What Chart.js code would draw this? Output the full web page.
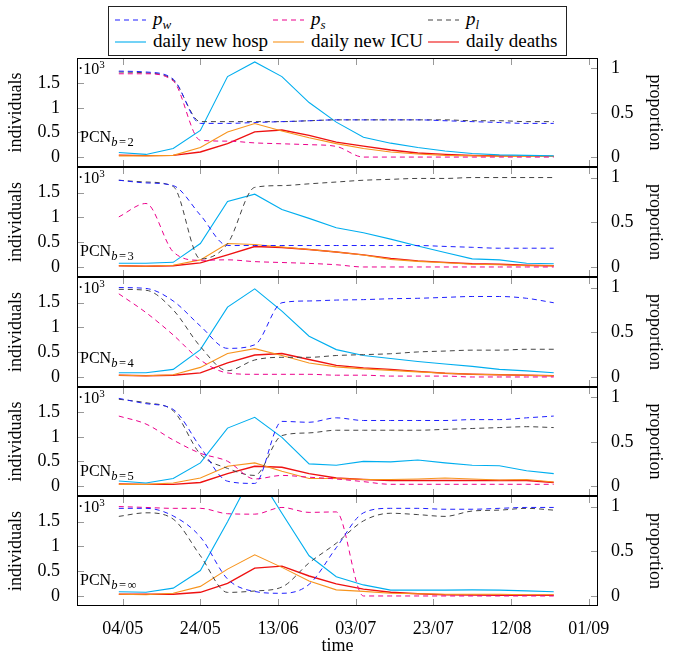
<!DOCTYPE html>
<html>
<head>
<meta charset="utf-8">
<script src="https://cdn.jsdelivr.net/npm/chart.js@4.4.0/dist/chart.umd.min.js"></script>
<style>
  html, body { margin: 0; padding: 0; background: #fff; }
  #page { position: relative; width: 673px; height: 655px; overflow: hidden;
          font-family: "Liberation Serif", "DejaVu Serif", serif; color: #000; }
  canvas { position: absolute; left: 0; }
  .lbl { position: absolute; white-space: nowrap; line-height: 1; }
  #legend { position: absolute; left: 108px; top: 6px; width: 457px; height: 48px;
            border: 1px solid #222; }
  .leg { position: absolute; white-space: nowrap; font-size: 19px; line-height: 19px; }
  .leg sub { font-size: 13px; vertical-align: -4px; line-height: 0; }
  .pcn { font-size: 16px; }
  .pcn sub { font-size: 12.5px; vertical-align: -4px; line-height: 0; letter-spacing: 1.5px; }
  .ten { font-size: 16px; }
  .ten sup { font-size: 11px; vertical-align: 6px; line-height: 0; }
</style>
</head>
<body>
<div id="page">
  <div id="legend"></div>
</div>
<script>
// --- data (individuals in thousands, proportions 0..1) ---
// days since 04/05, weekly points
const days = [-1, 6, 13, 20, 27, 34, 41, 48, 55, 62, 69, 76, 83, 90, 97, 104, 111];
const xTickDays = [0, 20, 40, 60, 80, 100, 120];
const xTickLabels = ['04/05', '24/05', '13/06', '03/07', '23/07', '12/08', '01/09'];
const leftTicks = [0, 0.5, 1, 1.5];
const rightTicks = [0, 0.5, 1];
const panelNames = ['2', '3', '4', '5', '∞'];

const hospB2   = [0.09, 0.05, 0.17, 0.54, 1.64, 1.94, 1.64, 1.11, 0.71, 0.40, 0.28, 0.19, 0.12, 0.07, 0.04, 0.03, 0.02];
const icuB2    = [0.02, 0.02, 0.03, 0.19, 0.51, 0.68, 0.53, 0.39, 0.27, 0.17, 0.10, 0.06, 0.03, 0.02, 0.01, 0.01, 0.01];
const deathsB2 = [0.035, 0.025, 0.03, 0.10, 0.27, 0.51, 0.55, 0.44, 0.30, 0.22, 0.14, 0.08, 0.05, 0.03, 0.02, 0.01, 0.01];
const pwB2     = [0.97, 0.96, 0.88, 0.38, 0.38, 0.39, 0.40, 0.41, 0.42, 0.42, 0.42, 0.42, 0.41, 0.40, 0.39, 0.38, 0.38];
const psB2     = [0.94, 0.94, 0.86, 0.19, 0.18, 0.16, 0.15, 0.14, 0.12, 0, 0, 0, 0, 0, 0, 0, 0];
const plB2     = [0.96, 0.95, 0.87, 0.40, 0.40, 0.40, 0.40, 0.41, 0.42, 0.42, 0.42, 0.42, 0.42, 0.41, 0.41, 0.40, 0.40];

const hospB3   = [0.07, 0.07, 0.09, 0.47, 1.32, 1.47, 1.16, 0.98, 0.79, 0.69, 0.56, 0.42, 0.29, 0.16, 0.14, 0.07, 0.06];
const icuB3    = [0.02, 0.01, 0.03, 0.14, 0.47, 0.45, 0.40, 0.35, 0.30, 0.24, 0.15, 0.11, 0.08, 0.05, 0.04, 0.02, 0.02];
const deathsB3 = [0.02, 0.01, 0.02, 0.08, 0.24, 0.41, 0.39, 0.35, 0.30, 0.24, 0.17, 0.12, 0.09, 0.06, 0.05, 0.03, 0.02];
const pwB3     = [0.97, 0.94, 0.91, 0.58, 0.24, 0.24, 0.24, 0.24, 0.24, 0.24, 0.24, 0.24, 0.23, 0.22, 0.21, 0.21, 0.21];
const psB3     = [0.56, 0.71, 0.17, 0.075, 0.08, 0.06, 0.05, 0.04, 0.025, 0, 0, 0, 0, 0, 0, 0, 0];
const plB3     = [0.97, 0.95, 0.90, 0.09, 0.26, 0.89, 0.91, 0.93, 0.95, 0.97, 0.98, 0.99, 0.99, 1.0, 1.0, 1.0, 1.0];

const hospB4   = [0.08, 0.08, 0.15, 0.55, 1.41, 1.78, 1.33, 0.82, 0.55, 0.43, 0.37, 0.31, 0.26, 0.21, 0.15, 0.12, 0.08];
const icuB4    = [0.03, 0.02, 0.04, 0.19, 0.47, 0.57, 0.43, 0.28, 0.20, 0.16, 0.13, 0.10, 0.07, 0.05, 0.04, 0.03, 0.02];
const deathsB4 = [0.03, 0.02, 0.03, 0.08, 0.28, 0.44, 0.47, 0.35, 0.23, 0.18, 0.15, 0.11, 0.07, 0.05, 0.04, 0.03, 0.02];
const pwB4     = [1.0, 0.99, 0.85, 0.57, 0.32, 0.36, 0.83, 0.85, 0.86, 0.865, 0.875, 0.88, 0.89, 0.90, 0.90, 0.88, 0.83];
const psB4     = [0.93, 0.72, 0.47, 0.19, 0.045, 0.03, 0.03, 0.03, 0.02, 0.02, 0.01, 0.01, 0.01, 0, 0, 0, 0];
const plB4     = [0.98, 0.97, 0.75, 0.34, 0.07, 0.19, 0.22, 0.22, 0.24, 0.25, 0.26, 0.28, 0.29, 0.30, 0.30, 0.31, 0.31];

const hospB5   = [0.10, 0.06, 0.15, 0.47, 1.18, 1.40, 0.99, 0.45, 0.42, 0.50, 0.49, 0.53, 0.47, 0.42, 0.41, 0.31, 0.25];
const icuB5    = [0.03, 0.03, 0.06, 0.16, 0.40, 0.47, 0.30, 0.15, 0.15, 0.13, 0.13, 0.14, 0.16, 0.14, 0.12, 0.13, 0.08];
const deathsB5 = [0.04, 0.03, 0.03, 0.07, 0.25, 0.40, 0.38, 0.25, 0.16, 0.13, 0.11, 0.11, 0.11, 0.11, 0.11, 0.11, 0.07];
const pwB5     = [0.99, 0.93, 0.865, 0.44, 0.055, 0.03, 0.73, 0.72, 0.77, 0.74, 0.74, 0.74, 0.74, 0.75, 0.75, 0.77, 0.79];
const psB5     = [0.79, 0.70, 0.52, 0.37, 0.28, 0.08, 0.12, 0.10, 0.08, 0.05, 0.02, 0.02, 0.02, 0.02, 0.02, 0.02, 0.02];
const plB5     = [0.98, 0.94, 0.85, 0.36, 0.20, 0.12, 0.57, 0.60, 0.63, 0.63, 0.63, 0.63, 0.64, 0.65, 0.66, 0.67, 0.66];

const hospBinf   = [0.08, 0.07, 0.155, 0.51, 1.50, 2.55, 1.67, 0.81, 0.385, 0.22, 0.115, 0.115, 0.115, 0.12, 0.115, 0.10, 0.08];
const icuBinf    = [0.03, 0.02, 0.05, 0.19, 0.54, 0.83, 0.575, 0.30, 0.12, 0.09, 0.05, 0.04, 0.03, 0.03, 0.03, 0.02, 0.02];
const deathsBinf = [0.03, 0.03, 0.03, 0.07, 0.25, 0.56, 0.60, 0.40, 0.24, 0.135, 0.07, 0.04, 0.02, 0.015, 0.01, 0.01, 0.01];
const pwBinf     = [0.98, 0.98, 0.895, 0.66, 0.19, 0.05, 0.03, 0.13, 0.54, 0.93, 0.98, 0.98, 0.97, 0.97, 0.98, 0.99, 0.99];
const psBinf     = [1.0, 0.99, 0.98, 0.98, 0.92, 0.915, 0.99, 0.935, 0.94, 0, 0, 0, 0, 0, 0, 0, 0];
const plBinf     = [0.89, 0.93, 0.86, 0.45, 0.04, 0.056, 0.10, 0.37, 0.59, 0.84, 0.925, 0.91, 0.89, 0.95, 0.96, 0.98, 0.96];

const panels = [
  [hospB2, icuB2, deathsB2, pwB2, psB2, plB2],
  [hospB3, icuB3, deathsB3, pwB3, psB3, plB3],
  [hospB4, icuB4, deathsB4, pwB4, psB4, plB4],
  [hospB5, icuB5, deathsB5, pwB5, psB5, plB5],
  [hospBinf, icuBinf, deathsBinf, pwBinf, psBinf, plBinf]
];

// --- styles ---
const FONT = '"Liberation Serif", "DejaVu Serif", serif';
const series = [
  { axis: 'y', color: '#00aeef', width: 1.1, dash: [] },        // daily new hosp
  { axis: 'y', color: '#f7941d', width: 1.1, dash: [] },        // daily new ICU
  { axis: 'y', color: '#ee1111', width: 1.4, dash: [] },        // daily deaths
  { axis: 'p', color: '#1f1fff', width: 1, dash: [5, 4] },      // p_w
  { axis: 'p', color: '#ec008c', width: 1, dash: [5, 4] },      // p_s
  { axis: 'p', color: '#444444', width: 1, dash: [5, 4] }       // p_l
];
const bounds = [58, 167, 277, 387, 496, 606];
const pcnBase = [84, 89, 86, 89, 89];

// --- legend (html) ---
const legendItems = [
  { html: '<i>p</i><sub><i>w</i></sub>', color: '#1f1fff', dash: '5 4', col: 0, row: 0 },
  { html: '<i>p</i><sub><i>s</i></sub>', color: '#ec008c', dash: '5 4', col: 1, row: 0 },
  { html: '<i>p</i><sub><i>l</i></sub>', color: '#444444', dash: '5 4', col: 2, row: 0 },
  { html: 'daily new hosp', color: '#00aeef', dash: '', col: 0, row: 1 },
  { html: 'daily new ICU', color: '#f7941d', dash: '', col: 1, row: 1 },
  { html: 'daily deaths', color: '#ee1111', dash: '', col: 2, row: 1 }
];
const legend = document.getElementById('legend');
const colX = [6, 164, 319];
const rowY = [13, 35];
legendItems.forEach(it => {
  const svg = document.createElementNS('http://www.w3.org/2000/svg', 'svg');
  svg.setAttribute('width', 31); svg.setAttribute('height', 6);
  svg.style.position = 'absolute';
  svg.style.left = colX[it.col] + 'px';
  svg.style.top = (rowY[it.row] - 3) + 'px';
  svg.innerHTML = '<line x1="0" y1="3" x2="31" y2="3" stroke="' + it.color + '" stroke-width="1.1"' +
    (it.dash ? ' stroke-dasharray="' + it.dash + '"' : '') + '/>';
  legend.appendChild(svg);
  const s = document.createElement('span');
  s.className = 'leg';
  s.style.left = (colX[it.col] + 38) + 'px';
  s.style.top = (it.row === 0 ? 2 : 24) + 'px';
  s.innerHTML = it.html;
  legend.appendChild(s);
});

// inner tick marks + frame
const framePlugin = {
  id: 'frame',
  afterDatasetsDraw(chart) {
    const { ctx, chartArea: a, scales } = chart;
    ctx.save();
    ctx.lineWidth = 1;
    ctx.strokeStyle = '#999';
    ctx.beginPath();
    xTickDays.forEach(d => {
      const px = Math.round(scales.x.getPixelForValue(d)) + 0.5;
      ctx.moveTo(px, a.top); ctx.lineTo(px, a.top + 7);
      ctx.moveTo(px, a.bottom); ctx.lineTo(px, a.bottom - 7);
    });
    leftTicks.forEach(v => {
      const py = Math.round(scales.y.getPixelForValue(v)) + 0.5;
      ctx.moveTo(a.left, py); ctx.lineTo(a.left + 7, py);
    });
    rightTicks.forEach(v => {
      const py = Math.round(scales.p.getPixelForValue(v)) + 0.5;
      ctx.moveTo(a.right, py); ctx.lineTo(a.right - 7, py);
    });
    ctx.stroke();
    ctx.strokeStyle = '#000';
    ctx.strokeRect(Math.round(a.left) + 0.5, Math.round(a.top) + 0.5,
                   Math.round(a.right - a.left) - 1, Math.round(a.bottom - a.top) - 1);
    ctx.restore();
  }
};

const page = document.getElementById('page');

function makePanel(k) {
  const top = bounds[k], bottom = bounds[k + 1];
  const last = k === panels.length - 1;
  const pad = 4;
  const canvas = document.createElement('canvas');
  canvas.width = 673;
  canvas.height = last ? 655 - (top - pad) : (bottom - top) + 2 * pad;
  canvas.style.top = (top - pad) + 'px';
  page.appendChild(canvas);

  const datasets = panels[k].map((vals, i) => ({
    data: vals.map((v, j) => ({ x: days[j], y: v })),
    yAxisID: series[i].axis,
    borderColor: series[i].color,
    borderWidth: series[i].width,
    borderDash: series[i].dash,
    cubicInterpolationMode: series[i].dash.length ? 'monotone' : 'default',
    tension: 0,
    pointRadius: 0,
    fill: false
  }));
  // dashed proportions drawn after the solid curves
  const ordered = datasets.slice(3).concat(datasets.slice(0, 3));

  new Chart(canvas, {
    type: 'line',
    data: { datasets: ordered },
    options: {
      responsive: false,
      animation: false,
      devicePixelRatio: 1,
      layout: { padding: { top: pad, bottom: last ? 0 : pad, left: 0, right: 0 } },
      plugins: { legend: { display: false }, tooltip: { enabled: false } },
      scales: {
        x: {
          type: 'linear', min: -11.77, max: 122.4, display: last,
          grid: { display: false }, border: { display: false },
          afterBuildTicks: s => { s.ticks = xTickDays.map(v => ({ value: v })); },
          ticks: {
            autoSkip: false, maxRotation: 0, padding: 4, color: '#000',
            font: { family: FONT, size: 18 },
            callback: v => xTickLabels[xTickDays.indexOf(v)]
          },
          title: { display: true, text: 'time', color: '#000', padding: 0,
                   font: { family: FONT, size: 18, lineHeight: 1 } },
          afterFit: s => { s.height = last ? 655 - bottom : 0; s.paddingLeft = 0; s.paddingRight = 0; }
        },
        y: {
          position: 'left', min: -0.207, max: 2.02,
          grid: { display: false }, border: { display: false },
          afterBuildTicks: s => { s.ticks = leftTicks.map(v => ({ value: v })); },
          ticks: { padding: 9, color: '#000', font: { family: FONT, size: 18 },
                   callback: v => String(v) },
          title: { display: true, text: 'individuals', color: '#000', padding: { top: 7, bottom: 0 },
                   font: { family: FONT, size: 18, lineHeight: 1 } },
          afterFit: s => { s.width = 77; s.paddingTop = 0; s.paddingBottom = 0; }
        },
        p: {
          position: 'right', min: -0.112, max: 1.118,
          grid: { display: false }, border: { display: false },
          afterBuildTicks: s => { s.ticks = rightTicks.map(v => ({ value: v })); },
          ticks: { padding: 5, color: '#000', font: { family: FONT, size: 18 },
                   callback: v => String(v) },
          title: { display: true, text: 'proportion', color: '#000', padding: { top: 9, bottom: 0 },
                   font: { family: FONT, size: 18, lineHeight: 1 } },
          afterFit: s => { s.width = 75; s.paddingTop = 0; s.paddingBottom = 0; }
        }
      }
    },
    plugins: [framePlugin]
  });

  // panel annotations
  const ten = document.createElement('span');
  ten.className = 'lbl ten';
  ten.style.left = '78px';
  ten.style.top = (top + 3) + 'px';
  ten.innerHTML = '·10<sup>3</sup>';
  page.appendChild(ten);

  const pcn = document.createElement('span');
  pcn.className = 'lbl pcn';
  pcn.style.left = '80px';
  pcn.style.top = (top + pcnBase[k] - 13) + 'px';
  pcn.innerHTML = 'PCN<sub><i>b</i>=' + panelNames[k] + '</sub>';
  page.appendChild(pcn);
}

panels.forEach((_, k) => makePanel(k));
</script>
</body>
</html>
